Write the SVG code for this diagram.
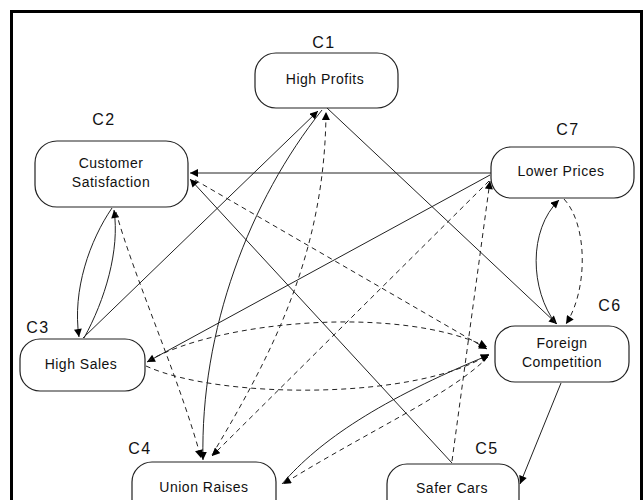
<svg xmlns="http://www.w3.org/2000/svg" width="644" height="500" viewBox="0 0 644 500">
<style>
.box{fill:#fff;stroke:#222;stroke-width:1.2}
.lbl{font-family:"Liberation Sans",Arial,sans-serif;font-size:16px;letter-spacing:1.5px;fill:#111;text-anchor:middle}
.txt{font-family:"Liberation Sans",Arial,sans-serif;font-size:14px;letter-spacing:0.5px;fill:#111;text-anchor:middle}
.s{fill:none;stroke:#222;stroke-width:1;marker-end:url(#ah)}
.d{fill:none;stroke:#222;stroke-width:1;stroke-dasharray:5,4;marker-end:url(#ah)}
.n{marker-end:none}
</style>
<defs>
<marker id="ah" viewBox="0 0 10 10" refX="10" refY="5" markerWidth="9" markerHeight="8" markerUnits="userSpaceOnUse" orient="auto">
<path d="M0,0 L10,5 L0,10 z" fill="#000"/>
</marker>
</defs>
<rect x="0" y="0" width="644" height="500" fill="#fff"/>
<rect x="11.5" y="11.5" width="630" height="530" fill="none" stroke="#000" stroke-width="3"/>

<g id="connectors">
<path class="s" d="M327,108 L557,324"/>
<path class="s" d="M83,338 L318,111"/>
<path class="s" d="M322,110 C250,200 200,330 203,460"/>
<path class="s" d="M491,173 L190,173"/>
<path class="s" d="M490,175 L147,362"/>
<path class="s" d="M452,463 L190,179"/>
<path class="s" d="M112,208 C90,240 72,290 79,337"/>
<path class="s" d="M84,338 C105,300 120,250 114,210"/>
<path class="s" d="M556,324 C530,290 528,230 559,200"/>
<path class="d" d="M564,199 C588,225 588,290 566,324"/>
<path class="s" d="M561,383 L520,484"/>
<path class="s" d="M282,484 C320,440 380,400 489,355"/>
<path class="d" d="M488,357 C450,395 370,430 283,484"/>
<path class="d" d="M195,180 L487,349"/>
<path class="d" d="M148,361 C220,320 400,305 487,347"/>
<path class="d" d="M146,366 C220,400 420,400 489,354"/>
<path class="d" d="M116,212 C135,280 180,380 201,458"/>
<path class="d" d="M212,455 C275,350 325,250 326,112"/>
<path class="d" d="M489,181 L212,456"/>
<path class="d" d="M452,461 L490,181"/>
</g>

<g id="C1">
<text class="lbl" x="324" y="48">C1</text>
<rect class="box" x="255" y="53" width="143" height="55" rx="21"/>
<text class="txt" x="325" y="84">High Profits</text>
</g>
<g id="C2">
<text class="lbl" x="104" y="125">C2</text>
<rect class="box" x="35" y="141" width="153" height="66" rx="22"/>
<text class="txt" x="111" y="168">Customer</text>
<text class="txt" x="111" y="187">Satisfaction</text>
</g>
<g id="C7">
<text class="lbl" x="568" y="135">C7</text>
<rect class="box" x="491" y="147" width="143" height="51" rx="20"/>
<text class="txt" x="561" y="176">Lower Prices</text>
</g>
<g id="C3">
<text class="lbl" x="38" y="333">C3</text>
<rect class="box" x="20" y="339" width="125" height="52" rx="20"/>
<text class="txt" x="81" y="369">High Sales</text>
</g>
<g id="C6">
<text class="lbl" x="610" y="311">C6</text>
<rect class="box" x="495" y="326" width="134" height="56" rx="20"/>
<text class="txt" x="562" y="348">Foreign</text>
<text class="txt" x="562" y="367">Competition</text>
</g>
<g id="C4">
<text class="lbl" x="140" y="454">C4</text>
<rect class="box" x="132" y="462" width="144" height="60" rx="20"/>
<text class="txt" x="204" y="492">Union Raises</text>
</g>
<g id="C5">
<text class="lbl" x="487" y="454">C5</text>
<rect class="box" x="387" y="464" width="132" height="60" rx="20"/>
<text class="txt" x="452" y="493">Safer Cars</text>
</g>
</svg>
